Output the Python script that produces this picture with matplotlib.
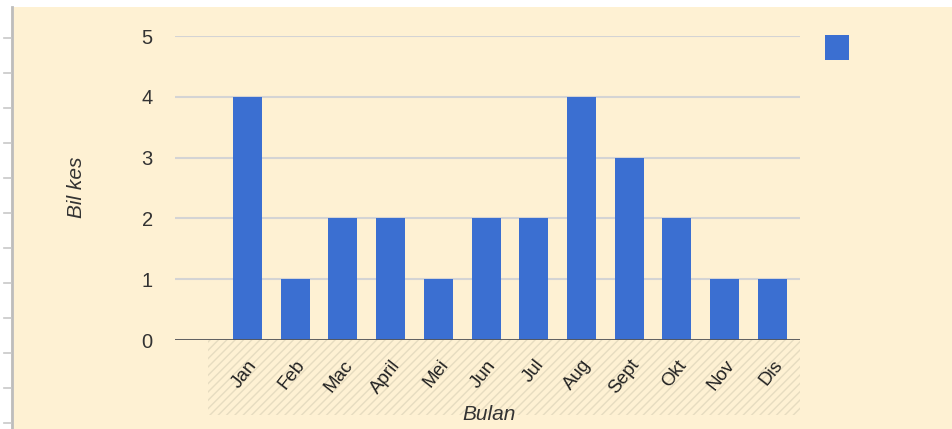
import matplotlib
matplotlib.use("Agg")
import matplotlib.pyplot as plt
from matplotlib.patches import Rectangle
from matplotlib.lines import Line2D

months = ["Jan", "Feb", "Mac", "April", "Mei", "Jun", "Jul", "Aug", "Sept", "Okt", "Nov", "Dis"]
cases = [4, 1, 2, 2, 1, 2, 2, 4, 3, 2, 1, 1]
y_ticks = [0, 1, 2, 3, 4, 5]
x_title = "Bulan"
y_title = "Bil kes"

BG = "#fef1d3"
BAR = "#3b6fd1"
W, H = 952, 429

plt.rcParams['font.family'] = ['Liberation Sans', 'DejaVu Sans']

fig = plt.figure(figsize=(W / 100, H / 100), dpi=100, facecolor=BG)

def fx(px):
    return px / W

def fy(py):
    return 1 - py / H

# white frame strips (top and left)
fig.patches.append(Rectangle((0, fy(7)), 1, 7 / H, transform=fig.transFigure, facecolor="white", edgecolor="none", zorder=-2))
fig.patches.append(Rectangle((0, 0), fx(11), 1, transform=fig.transFigure, facecolor="white", edgecolor="none", zorder=-2))
fig.lines.append(Line2D([fx(11.5), fx(11.5)], [0, fy(7)], transform=fig.transFigure, color="#bdbdbd", lw=2))
for py in range(38, 429, 35):
    fig.lines.append(Line2D([fx(4), fx(11)], [fy(py), fy(py)], transform=fig.transFigure, color="#c8c8c8", lw=1.2))

# hatched label band (behind axes text)
band = Rectangle((fx(208), fy(415)), fx(800) - fx(208), (415 - 340) / H, transform=fig.transFigure,
                 facecolor="none", edgecolor="#e6dcc0", hatch="////", lw=0, zorder=-1)
fig.patches.append(band)

# axes
ax_left, ax_right = 175, 800
ax_top, ax_bottom = 36, 340
ax = fig.add_axes([fx(ax_left), fy(ax_bottom), (ax_right - ax_left) / W, (ax_bottom - ax_top) / H])
ax.set_facecolor("none")

xs = list(range(len(months)))
ax.bar(xs, cases, width=0.61, color=BAR, zorder=3)
ax.set_xlim(-1.52, 11.58)
ax.set_ylim(0, 5)
ax.set_yticks(y_ticks)
ax.set_yticklabels([str(v) for v in y_ticks], fontsize=14.5, color="#333333")
ax.grid(axis="y", color="#d4d4d4", lw=1.5, zorder=0)
ax.axhline(0, color="#555555", lw=2, zorder=4)
for s in ax.spines.values():
    s.set_visible(False)
ax.tick_params(axis="both", length=0)
ax.tick_params(axis="y", pad=16)
ax.set_xticks(xs)
ax.set_xticklabels(months, rotation=52, ha="right", va="top", rotation_mode="anchor",
                   fontsize=13.5, color="#222222")
ax.tick_params(axis="x", pad=12)

fig.text(fx(489), fy(415), x_title, fontsize=15, style="italic", color="#333333", ha="center", va="center")
fig.text(fx(77), fy(187), y_title, fontsize=15, style="italic", color="#333333", ha="center", va="center", rotation=90)

# legend swatch (no label in original)
fig.patches.append(Rectangle((fx(825), fy(60)), fx(849) - fx(825), 25 / H, transform=fig.transFigure,
                             facecolor=BAR, edgecolor="none"))

fig.savefig("out.png", dpi=100, facecolor=BG)
